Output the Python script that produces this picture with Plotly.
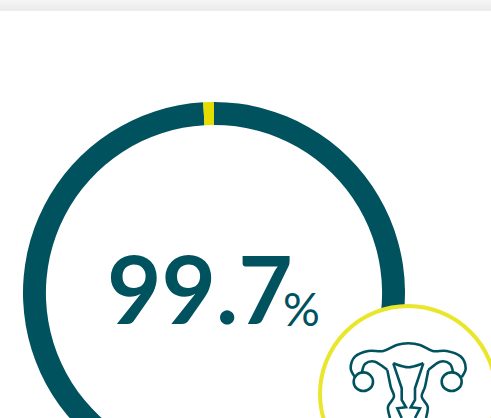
import plotly.graph_objects as go

W, H = 491, 520
slice_labels = ["Detected", "Not detected"]
slice_values = [99.1, 0.9]
slice_colors = ["#00525e", "#e5dd00"]
main_text = "99.7"
unit_text = "%"
band_greys = ["#f5f5f5", "#f4f4f4", "#f3f3f3", "#f2f2f2", "#f1f1f1", "#f0f0f0", "#efefef", "#eeeeee", "#ededed", "#ebebeb", "#eeeeee"]

TEAL = "#00525e"
BADGE = "#e9e62b"

def z(pts):
    return [(300 + a / 3, 290 + b / 3) for a, b in pts]

def smooth(pts):
    d = f"M{pts[0][0]:.1f},{pts[0][1]:.1f}"
    n = len(pts)
    for i in range(n - 1):
        p0 = pts[max(i - 1, 0)]; p1 = pts[i]; p2 = pts[i + 1]; p3 = pts[min(i + 2, n - 1)]
        c1 = (p1[0] + (p2[0] - p0[0]) / 6, p1[1] + (p2[1] - p0[1]) / 6)
        c2 = (p2[0] - (p3[0] - p1[0]) / 6, p2[1] - (p3[1] - p1[1]) / 6)
        d += f" C{c1[0]:.1f},{c1[1]:.1f} {c2[0]:.1f},{c2[1]:.1f} {p2[0]:.1f},{p2[1]:.1f}"
    return d

def straight(pts):
    return "M" + " L".join(f"{a:.1f},{b:.1f}" for a, b in pts)

icon_smooth = [
    [(165,262),(152,235),(165,200),(205,183),(250,183),(290,165),(325,160),(360,165),(398,183),(440,183),(483,200),(497,235),(485,262)],
    [(185,250),(195,222),(225,215),(262,240)],
    [(460,250),(450,222),(420,215),(385,240)],
    [(262,240),(272,290),(282,320),(264,350),(270,384)],
    [(385,240),(375,290),(365,320),(383,350),(378,384)],
    [(280,220),(325,232),(370,220)],
]
icon_straight = [
    [(280,220),(305,295),(305,330),(318,352),(292,355),(305,384)],
    [(370,220),(345,295),(345,330),(332,352),(360,355),(345,384)],
]
ovaries = [(190,275,29,28), (455,275,30,28)]

fig = go.Figure()
fig.add_trace(go.Pie(
    labels=slice_labels, values=slice_values, sort=False, direction="clockwise", rotation=0,
    hole=0.88, textinfo="none", showlegend=False, hoverinfo="label+percent",
    marker=dict(colors=slice_colors, line=dict(width=0)),
    domain=dict(x=[23 / W, 405 / W], y=[1 - 484 / H, 1 - 102 / H]),
))

shapes = []
for i, g in enumerate(band_greys):
    shapes.append(dict(type="rect", xref="x", yref="y", x0=0, x1=W, y0=i, y1=i + 1, fillcolor=g, line_width=0, layer="below"))
shapes.append(dict(type="circle", xref="x", yref="y", x0=320, x1=496, y0=306, y1=482,
                   fillcolor="white", line=dict(color=BADGE, width=4), layer="above"))
for s in icon_smooth:
    shapes.append(dict(type="path", xref="x", yref="y", path=smooth(z(s)), line=dict(color=TEAL, width=2.6), layer="above"))
for s in icon_straight:
    shapes.append(dict(type="path", xref="x", yref="y", path=straight(z(s)), line=dict(color=TEAL, width=2.6), layer="above"))
for cx, cy, rx, ry in ovaries:
    a, b = 300 + cx / 3, 290 + cy / 3
    shapes.append(dict(type="circle", xref="x", yref="y", x0=a - rx / 3, x1=a + rx / 3, y0=b - ry / 3, y1=b + ry / 3,
                       fillcolor="white", line=dict(color=TEAL, width=2.6), layer="above"))

fig.update_layout(
    width=W, height=H, margin=dict(l=0, r=0, t=0, b=0),
    paper_bgcolor="white", plot_bgcolor="rgba(0,0,0,0)", showlegend=False, shapes=shapes,
    xaxis=dict(range=[0, W], visible=False, fixedrange=True),
    yaxis=dict(range=[H, 0], visible=False, fixedrange=True),
    annotations=[
        dict(x=110, y=325, xref="x", yref="y", text=main_text, showarrow=False, xanchor="left", yanchor="bottom",
             borderpad=0, yshift=-20, xshift=-4,
             font=dict(family="Lato", size=94, color=TEAL, weight=700)),
        dict(x=282, y=327, xref="x", yref="y", text=unit_text, showarrow=False, xanchor="left", yanchor="bottom",
             borderpad=0, yshift=-10,
             font=dict(family="Lato", size=46, color=TEAL, weight=400)),
    ],
)
fig.add_trace(go.Scatter(x=[], y=[], showlegend=False))
fig.write_html("out.html", config=dict(displayModeBar=False),
               post_script="document.body.style.margin='0';document.documentElement.style.overflow='hidden';document.body.style.overflow='hidden';")
